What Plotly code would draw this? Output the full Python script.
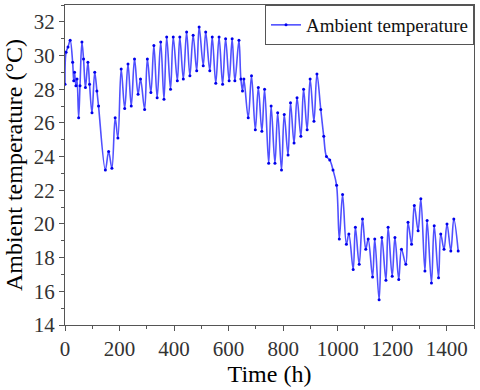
import plotly.graph_objects as go

# Hourly ambient temperature, read at the daily turning points
time_h = [0, 4, 11, 19, 28, 32, 35, 40, 44, 50, 55, 62, 68, 75, 84, 90, 99, 109, 117, 123,
          148, 160, 172, 184, 194, 206, 219, 231, 243, 255, 268, 277, 292, 302, 315, 326,
          338, 351, 363, 373, 387, 397, 412, 421, 434, 446, 458, 470, 483, 492, 507, 516,
          531, 540, 553, 565, 578, 589, 602, 613, 623, 638, 645, 651, 656, 672, 684, 698,
          709, 722, 732, 747, 756, 770, 780, 794, 804, 818, 827, 840, 851, 865, 875, 888,
          899, 913, 924, 938, 949, 959, 971, 983, 996, 1006, 1018, 1032, 1041, 1057, 1065,
          1079, 1091, 1103, 1112, 1128, 1136, 1152, 1162, 1177, 1185, 1200, 1210, 1224,
          1234, 1250, 1258, 1271, 1281, 1295, 1305, 1320, 1328, 1344, 1354, 1370, 1378,
          1390, 1401, 1415, 1426, 1442]
temp_c = [28.3, 30.2, 30.5, 30.9, 29.6, 28.5, 29.0, 28.2, 28.6, 26.3, 28.2, 30.8, 29.8, 28.1,
          29.6, 28.3, 26.6, 29.0, 27.9, 27.0, 23.2, 24.3, 23.3, 26.3, 25.1, 29.2, 26.85, 29.5,
          27.0, 29.8, 27.7, 28.6, 26.8, 29.8, 27.8, 30.6, 27.5, 30.8, 27.4, 31.1, 28.0, 31.1,
          28.5, 31.1, 28.6, 31.4, 28.8, 31.2, 29.1, 31.7, 29.4, 31.4, 29.1, 31.1, 28.35, 31.1,
          28.3, 31.0, 28.5, 31.0, 28.5, 30.9, 28.6, 27.9, 28.6, 26.3, 28.8, 25.6, 28.1, 25.5,
          28.0, 23.6, 27.0, 23.6, 26.6, 23.2, 26.5, 24.1, 27.2, 24.8, 27.5, 25.2, 28.0, 25.6,
          28.6, 26.1, 28.9, 26.8, 25.2, 24.0, 23.8, 23.2, 22.3, 19.1, 21.75, 18.8, 19.4, 17.3,
          19.8, 17.6, 20.3, 18.5, 19.1, 16.85, 19.1, 15.5, 19.2, 16.65, 19.8, 16.9, 19.2, 16.7,
          18.5, 17.6, 20.1, 18.8, 21.1, 19.6, 21.5, 17.2, 20.2, 16.5, 19.9, 16.8, 19.4, 18.5,
          20.0, 18.4, 20.3, 18.4]

x_ticks = [0, 200, 400, 600, 800, 1000, 1200, 1400]
y_ticks = [14, 16, 18, 20, 22, 24, 26, 28, 30, 32]

serif = "Liberation Serif"

fig = go.Figure()
fig.add_trace(go.Scatter(
    x=time_h, y=temp_c,
    mode='lines+markers',
    name='Ambient temperature',
    line=dict(color='rgb(80,80,255)', width=1.6, shape='spline', smoothing=1.0),
    marker=dict(color='rgb(0,0,235)', size=3),
))

axis_common = dict(
    showgrid=False, zeroline=False, automargin=False,
    showline=True, linecolor='#555555', linewidth=1.2, mirror=True,
    ticks='outside', ticklen=5, tickwidth=1.2, tickcolor='#555555',
    tickfont=dict(family=serif, size=21, color='#333333'),
)
minor_common = dict(ticks='outside', ticklen=3, tickwidth=1, tickcolor='#555555')

fig.update_layout(
    width=480, height=390,
    margin=dict(l=65, r=6, t=5, b=65),
    plot_bgcolor='white', paper_bgcolor='white',
    font=dict(family=serif, color='#000000'),
    showlegend=True,
    legend=dict(
        x=1, y=1, xanchor='right', yanchor='top',
        bordercolor='#555555', borderwidth=1, bgcolor='white',
        font=dict(family=serif, size=19, color='#111111'),
    ),
    xaxis=dict(
        axis_common, range=[0, 1500], tickvals=x_ticks,
        minor=dict(minor_common, dtick=100, tick0=0),
        title=dict(text='Time (h)', font=dict(family=serif, size=24), standoff=4),
    ),
    yaxis=dict(
        axis_common, range=[14, 33], tickvals=y_ticks,
        minor=dict(minor_common, dtick=1, tick0=14),
        title=dict(text='Ambient temperature (°C)', font=dict(family=serif, size=24), standoff=4),
    ),
)

# drop the browser's default body margin so the figure sits at the page corner
fig.write_html("out.html", config={'displayModeBar': False},
               post_script="document.body.style.margin='0';")
